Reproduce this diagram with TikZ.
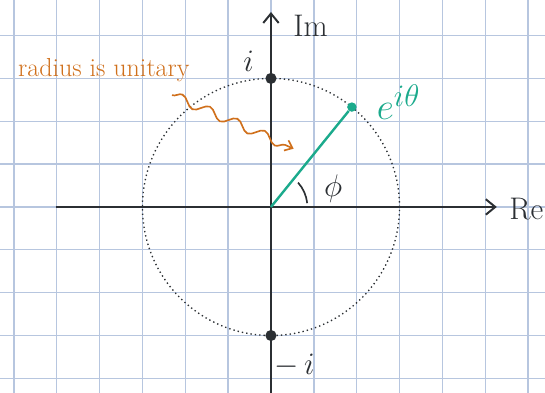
\documentclass[tikz,border=0pt]{standalone}
\usepackage{amsmath,amssymb}
\usepackage{tikz}
\usetikzlibrary{arrows.meta,decorations.pathmorphing}
\definecolor{GridBlue}{HTML}{B7C6DF}
\definecolor{InkDark}{HTML}{2B2F33}
\definecolor{InkTeal}{HTML}{1BAA8C}
\definecolor{InkOrange}{HTML}{D0701C}

\begin{document}
\begin{tikzpicture}[
  x=1cm,y=1cm,
  gridline/.style={
    draw=GridBlue,
    line width=0.9pt
  },
  axis/.style={
    -{Straight Barb[length=2.2mm,width=3.6mm]},
    line width=1.3pt,
    draw=InkDark
  },
  unitcircle/.style={
    draw=InkDark,
    line width=0.9pt,
    dotted
  },
  dotpoint/.style={
    circle,
    fill=InkDark,
    inner sep=0pt,
    minimum size=2.6mm
  },
  phasor/.style={
    line width=1.6pt,
    draw=InkTeal
  },
  axislabel/.style={
    font=\huge,
    text=InkDark
  },
  note/.style={
    font=\LARGE,
    text=InkOrange
  },
  squiggle/.style={
    -{Straight Barb[length=1.6mm,width=2.6mm]},
    line width=1.1pt,
    draw=InkOrange,
    decorate,
    decoration={snake,amplitude=1.1mm,segment length=7mm,post length=1mm}
  }
]
\useasboundingbox (-6.324,-4.34) rectangle (6.395,4.83);

% -------------------------------------------------
% Background grid
% -------------------------------------------------
\foreach \gx in {-6,...,6}
  \draw[gridline] (\gx,-4.34) -- (\gx,4.83);
\foreach \gy in {-4,...,4}
  \draw[gridline] (-6.324,\gy) -- (6.395,\gy);

% -------------------------------------------------
% Axes
% -------------------------------------------------
\coordinate (O) at (0,0);
\coordinate (reL) at (-5.02,0);
\coordinate (reR) at (5.27,0);
\coordinate (imB) at (0,-4.40);
\coordinate (imT) at (0,4.55);

\draw[axis] (reL) -- (reR);
\draw[axis] (imB) -- (imT);

\node[axislabel, anchor=west, inner sep=1pt] (re) at (5.52,-0.05) {Re};
\node[axislabel, anchor=west] (im) at (0.40,4.22) {Im};

% -------------------------------------------------
% Unit circle
% -------------------------------------------------
\draw[unitcircle] (O) circle (3);

\node[dotpoint] (pi) at (0,3) {};
\node[dotpoint] (mi) at (0,-3) {};
\node[axislabel] (pilabel) at (-0.52,3.40) {$i$};
\node[axislabel] (milabel) at (0.55,-3.70) {$-\,i$};

% -------------------------------------------------
% Phasor e^{i theta}
% -------------------------------------------------
\node[dotpoint, fill=InkTeal, minimum size=2.2mm] (ez) at (51:3) {};
\draw[phasor] (O) -- (ez);
\node[anchor=west, text=InkTeal, font=\Huge] (elabel) at (2.35,2.45) {$e^{i\theta}$};

% angle
\draw[InkDark, line width=1.1pt] (6:0.85) arc (6:42:0.85);
\node[axislabel] (phi) at (1.45,0.42) {$\phi$};

% -------------------------------------------------
% Note on the radius
% -------------------------------------------------
\node[note] (radnote) at (-3.90,3.20) {radius is unitary};
\coordinate (wavestart) at (-2.31,2.61);
\coordinate (waveend) at (0.53,1.36);
\draw[squiggle] (wavestart) -- (waveend);

\end{tikzpicture}
\end{document}
